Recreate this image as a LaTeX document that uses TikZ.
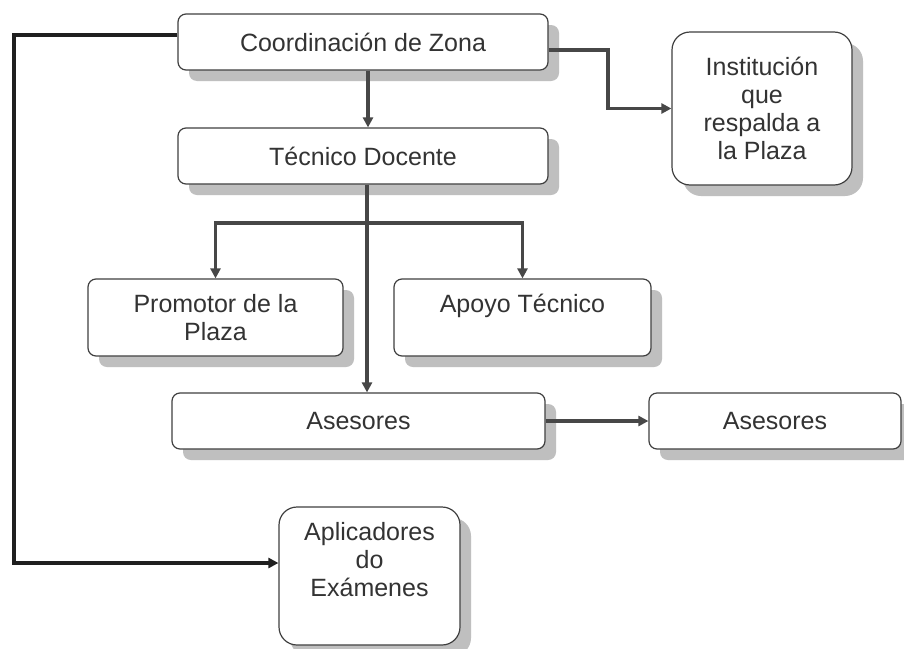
\documentclass[tikz,border=0pt]{standalone}
\usepackage{fontspec}
\setmainfont{Liberation Sans}
\usetikzlibrary{arrows.meta,shadows}
\begin{document}
\begin{tikzpicture}[x=1pt,y=-1pt,
  box/.style={draw=black!75, line width=1.2pt, fill=white, rounded corners=8pt,
    align=center, text=black!80, font=\fontsize{25}{28}\selectfont, inner sep=0pt,
    drop shadow={shadow xshift=11pt, shadow yshift=-11pt, fill=black!25, opacity=1}},
  bigbox/.style={box, rounded corners=18pt},
  conn/.style={draw=black!72, line width=3.5pt,
    -{Triangle[length=10pt,width=10pt]}},
  connd/.style={conn, draw=black!88},
  plain/.style={draw=black!72, line width=3.5pt}]
\useasboundingbox (0,0) rectangle (904,648);
\fill[white] (0,0) rectangle (904,648);

\node[box, minimum width=370pt, minimum height=56pt] (cz) at (363,42) {Coordinación de Zona};
\node[box, minimum width=370pt, minimum height=56pt] (td) at (363,156) {Técnico Docente};
\node[bigbox, minimum width=180pt, minimum height=153pt] (inst) at (762,108.5) {Institución\\que\\respalda a\\la Plaza};
\node[box, minimum width=255pt, minimum height=77pt] (prom) at (215.5,317.5) {Promotor de la\\Plaza};
\node[box, minimum width=257pt, minimum height=77pt] (apoyo) at (522.5,317.5) {Apoyo Técnico\\\mbox{}};
\node[box, minimum width=373pt, minimum height=56pt] (ases) at (358.5,421) {Asesores};
\node[box, minimum width=252pt, minimum height=56pt] (ases2) at (775,421) {Asesores};
\node[bigbox, minimum width=181pt, minimum height=138pt] (apl) at (369.5,576) {Aplicadores\\do\\Exámenes\\[6pt]};

\coordinate (l1) at (14,300);
\coordinate (c2) at (608,80);
\coordinate (bj) at (367,223);

\draw[connd] ([yshift=7pt]cz.west) -| (l1) |- ([yshift=13pt]apl.west);
\draw[conn] ([yshift=-8pt]cz.east) -| (c2) |- (inst.west);
\draw[conn] ([xshift=5pt]cz.south) -- ([xshift=5pt]td.north);
\draw[conn] ([xshift=4pt]td.south) -- ([xshift=8.5pt]ases.north);
\draw[conn] (bj) -| (prom.north);
\draw[conn] (bj) -| (apoyo.north);
\draw[conn] (ases.east) -- (ases2.west);
\end{tikzpicture}
\end{document}
